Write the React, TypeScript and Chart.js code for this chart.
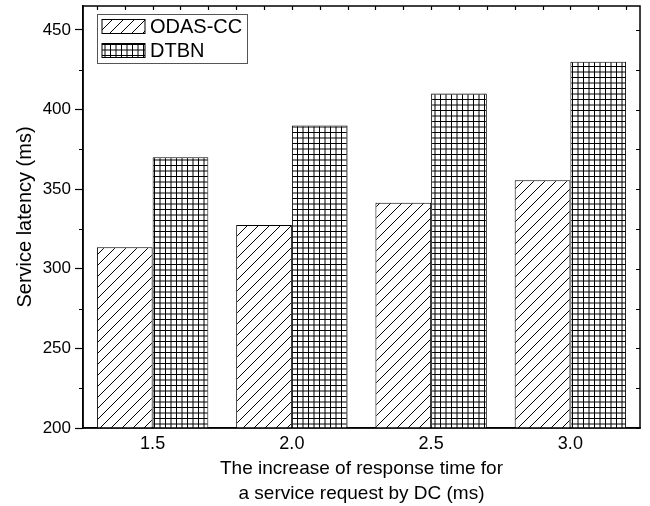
import React, { useEffect, useRef } from 'react';
import { Chart, registerables } from 'chart.js';

Chart.register(...registerables);

const categories = ['1.5', '2.0', '2.5', '3.0'];
const odasValues = [313.5, 327.5, 341.5, 355.5];
const dtbnValues = [370, 390, 410, 430];
const seriesNames = ['ODAS-CC', 'DTBN'];
const yMin = 200;
const yMax = 465;
const yStep = 25;
const yLabelStep = 50;
const xTitle = ['The increase of response time for', 'a service request by DC (ms)'];
const yTitle = 'Service latency (ms)';

const FONT = "'Liberation Sans', Arial, sans-serif";

function makeHatch(): CanvasPattern | string {
  const s = 11;
  const c = document.createElement('canvas');
  c.width = s;
  c.height = s;
  const g = c.getContext('2d');
  if (!g) return '#fff';
  g.fillStyle = '#fff';
  g.fillRect(0, 0, s, s);
  g.strokeStyle = '#000';
  g.lineWidth = 1;
  g.beginPath();
  g.moveTo(-1, s + 1);
  g.lineTo(s + 1, -1);
  g.moveTo(-2, 1);
  g.lineTo(1, -2);
  g.moveTo(s - 1, s + 2);
  g.lineTo(s + 2, s - 1);
  g.stroke();
  return g.createPattern(c, 'repeat') || '#fff';
}

function makeGrid(): CanvasPattern | string {
  const s = 11;
  const c = document.createElement('canvas');
  c.width = s;
  c.height = s;
  const g = c.getContext('2d');
  if (!g) return '#fff';
  g.fillStyle = '#fff';
  g.fillRect(0, 0, s, s);
  g.strokeStyle = '#000';
  g.lineWidth = 1;
  g.beginPath();
  g.moveTo(0.5, 0);
  g.lineTo(0.5, s);
  g.moveTo(6, 0);
  g.lineTo(6, s);
  g.moveTo(0, 0.5);
  g.lineTo(s, 0.5);
  g.moveTo(0, 6);
  g.lineTo(s, 6);
  g.stroke();
  return g.createPattern(c, 'repeat') || '#fff';
}

export default function App() {
  const ref = useRef<HTMLCanvasElement | null>(null);

  useEffect(() => {
    const canvas = ref.current;
    if (!canvas) return;
    const hatch = makeHatch();
    const grid = makeGrid();
    const fills = [hatch, grid];

    const framePlugin = {
      id: 'frame',
      afterDatasetsDraw(chart: any) {
        const ctx = chart.ctx;
        const { left, right, top, bottom } = chart.chartArea;
        const y = chart.scales.y;
        const x = chart.scales.x;
        ctx.save();
        ctx.strokeStyle = '#000';
        ctx.lineWidth = 1.2;
        ctx.beginPath();
        for (let v = yMin; v <= yMax; v += yStep) {
          const py = Math.round(y.getPixelForValue(v)) + 0.5;
          if (v % yLabelStep !== 0) {
            ctx.moveTo(left - 4, py);
            ctx.lineTo(left, py);
          }
          ctx.moveTo(right, py);
          ctx.lineTo(right - 4, py);
        }
        for (let i = -0.4; i <= categories.length - 0.6 + 0.001; i += 0.2) {
          const px = Math.round(x.getPixelForValue(i)) + 0.5;
          if (px <= left + 1 || px >= right - 1) continue;
          ctx.moveTo(px, top);
          ctx.lineTo(px, top + 4);
        }
        ctx.stroke();
        ctx.lineWidth = 1.5;
        ctx.strokeRect(left, top, right - left, bottom - top);

        const lx = 97.5, ly = 14.5, lw = 150, lh = 49;
        ctx.fillStyle = '#fff';
        ctx.fillRect(lx, ly, lw, lh);
        ctx.lineWidth = 1;
        ctx.strokeStyle = '#555';
        ctx.strokeRect(lx, ly, lw, lh);
        ctx.font = `20px ${FONT}`;
        ctx.textBaseline = 'middle';
        ctx.textAlign = 'left';
        seriesNames.forEach((name, i) => {
          const sy = 19.5 + i * 24;
          ctx.fillStyle = fills[i] as any;
          ctx.fillRect(102, sy, 43, 14);
          ctx.strokeStyle = '#000';
          ctx.lineWidth = 1;
          ctx.strokeRect(102, sy, 43, 14);
          ctx.fillStyle = '#000';
          ctx.fillText(name, 150, sy + 8);
        });
        ctx.restore();
      },
    };

    const chart = new Chart(canvas, {
      type: 'bar',
      data: {
        labels: categories,
        datasets: [
          {
            label: seriesNames[0],
            data: odasValues,
            backgroundColor: hatch as any,
            borderColor: '#000',
            borderWidth: 1,
          },
          {
            label: seriesNames[1],
            data: dtbnValues,
            backgroundColor: grid as any,
            borderColor: '#000',
            borderWidth: 1,
          },
        ],
      },
      options: {
        animation: false,
        responsive: false,
        layout: { padding: { top: 6, right: 10, left: 0, bottom: 0 } },
        datasets: { bar: { categoryPercentage: 0.8, barPercentage: 1.0 } },
        plugins: {
          legend: { display: false },
          tooltip: { enabled: false },
        },
        scales: {
          x: {
            type: 'category',
            offset: true,
            grid: { display: false, tickLength: 0 },
            border: { display: true, color: '#000', width: 1.5 },
            ticks: {
              color: '#000',
              padding: 5,
              font: { family: FONT, size: 18 },
            },
            title: {
              display: true,
              text: xTitle,
              color: '#000',
              padding: { top: 0, bottom: 0 },
              font: { family: FONT, size: 19, lineHeight: 1.32 },
            },
            afterFit: (s: any) => {
              s.height = 78;
              s.paddingLeft = 0;
              s.paddingRight = 0;
            },
          },
          y: {
            type: 'linear',
            min: yMin,
            max: yMax,
            grid: {
              display: true,
              drawOnChartArea: false,
              drawTicks: true,
              tickLength: 8,
              tickWidth: 1.2,
              tickColor: (c: any) => (c.tick && c.tick.value % yLabelStep === 0 ? '#000' : 'rgba(0,0,0,0)'),
            },
            border: { display: true, color: '#000', width: 1.5 },
            ticks: {
              stepSize: yStep,
              autoSkip: false,
              includeBounds: false,
              color: '#000',
              padding: 4,
              font: { family: FONT, size: 17 },
              callback: (v: any) => (Number(v) % yLabelStep === 0 ? String(v) : ''),
            },
            title: {
              display: true,
              text: yTitle,
              color: '#000',
              padding: { top: 13, bottom: 0 },
              font: { family: FONT, size: 20, lineHeight: 1.2 },
            },
            afterFit: (s: any) => {
              s.width = 83;
              s.paddingTop = 0;
              s.paddingBottom = 0;
            },
          },
        },
      },
      plugins: [framePlugin],
    });
    return () => chart.destroy();
  }, []);

  return (
    <div style={{ position: 'fixed', left: 0, top: 0, width: 650, height: 506, background: '#fff' }}>
      <canvas ref={ref} width={650} height={506} style={{ display: 'block' }} />
    </div>
  );
}
